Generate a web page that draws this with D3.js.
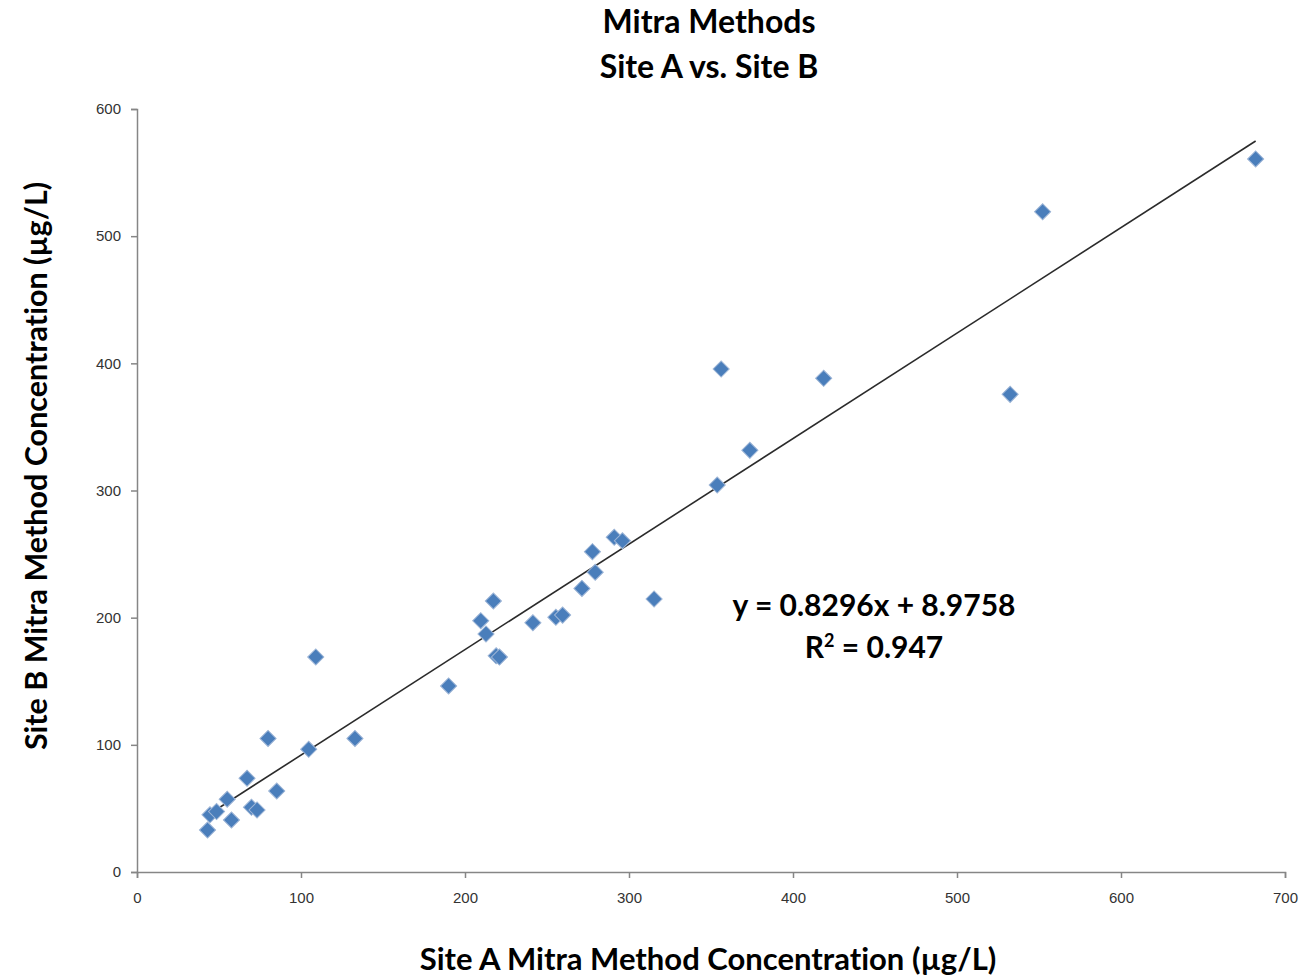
<!DOCTYPE html>
<html>
<head>
  <meta charset="UTF-8">
  <title>Mitra Methods - Site A vs. Site B</title>
  <script src="https://cdn.jsdelivr.net/npm/d3@7"></script>
  <style>
    body { margin: 0; background: #fff; }
    .tick text { font-family: "Liberation Sans", Arial, sans-serif; font-size: 15px; fill: #333; }
    .axis path, .axis line { stroke: #868686; stroke-width: 1.5; }
    .lbl { font-family: Lato, "Open Sans", sans-serif; font-weight: bold; fill: #000;
           font-variant-ligatures: none; font-feature-settings: "liga" 0; }
  </style>
</head>
<body>
<script>
  // Site A (x) and Site B (y) concentrations, ug/L
  var siteA = [43, 44.5, 48.5, 55, 57.6, 67.1, 69.8, 73.2, 79.9, 85.2,
               104.7, 109, 132.9, 190, 209.6, 212.8, 217.3, 219, 221, 241.4,
               255.4, 259.5, 271.3, 277.7, 279.4, 291, 296, 315.3, 353.8, 356.2,
               373.7, 418.7, 532.4, 552.2, 682.1];
  var siteB = [33, 45, 47.5, 57.2, 40.9, 73.7, 50.9, 48.8, 105, 63.7,
               96.5, 169.1, 105, 146.3, 197.6, 187.2, 213.1, 170, 169, 196,
               200.3, 202, 223, 251.9, 235.7, 263.2, 260.5, 214.7, 304.3, 395.5,
               331.6, 388.2, 375.6, 519.2, 560.7];
  var xTicks = [0, 100, 200, 300, 400, 500, 600, 700];
  var yTicks = [0, 100, 200, 300, 400, 500, 600];
  var slope = 0.8296, intercept = 8.9758, rSquared = 0.947;

  var W = 1306, H = 979;
  var svg = d3.select('body').append('svg')
    .attr('width', W).attr('height', H);

  var x = d3.scaleLinear().domain([0, 700]).range([137, 1285]);
  var y = d3.scaleLinear().domain([0, 600]).range([872, 109]);

  svg.append('g').attr('class', 'axis')
    .attr('transform', 'translate(0,872)')
    .call(d3.axisBottom(x).tickValues(xTicks).tickSize(6).tickPadding(12))
    .selectAll('.tick text').attr('dy', '0.85em');

  svg.append('g').attr('class', 'axis')
    .attr('transform', 'translate(137,0)')
    .call(d3.axisLeft(y).tickValues(yTicks).tickSize(6).tickPadding(10));

  // trendline over the range of the data
  var xr = d3.extent(siteA);
  svg.append('line')
    .attr('x1', x(xr[0])).attr('y1', y(slope * xr[0] + intercept))
    .attr('x2', x(xr[1])).attr('y2', y(slope * xr[1] + intercept))
    .attr('stroke', '#2b2b2b').attr('stroke-width', 1.6);

  var pts = siteA.map(function(a, i) { return { a: a, b: siteB[i] }; });
  var diamond = d3.symbol().type(d3.symbolSquare).size(130);
  svg.append('g').selectAll('path').data(pts).enter().append('path')
    .attr('d', diamond)
    .attr('transform', function(d) { return 'translate(' + x(d.a) + ',' + y(d.b) + ') rotate(45)'; })
    .attr('fill', '#4a7ebb')
    .attr('stroke', '#9db5d6')
    .attr('stroke-width', 1);

  // titles
  svg.append('text').attr('class', 'lbl')
    .attr('x', 709).attr('y', 33).attr('text-anchor', 'middle')
    .style('font-size', '32px').text('Mitra Methods');
  svg.append('text').attr('class', 'lbl')
    .attr('x', 709).attr('y', 78).attr('text-anchor', 'middle')
    .style('font-size', '32px').text('Site A vs. Site B');

  svg.append('text').attr('class', 'lbl')
    .attr('x', 708).attr('y', 970).attr('text-anchor', 'middle')
    .style('font-size', '31px').text('Site A Mitra Method Concentration (µg/L)');

  svg.append('text').attr('class', 'lbl')
    .attr('transform', 'translate(47,466) rotate(-90)')
    .attr('text-anchor', 'middle')
    .style('font-size', '30.5px').text('Site B Mitra Method Concentration (µg/L)');

  // regression label
  svg.append('text').attr('class', 'lbl')
    .attr('x', 874).attr('y', 616).attr('text-anchor', 'middle')
    .style('font-size', '30px')
    .text('y = ' + slope + 'x + ' + intercept);
  var r2 = svg.append('text').attr('class', 'lbl')
    .attr('x', 874).attr('y', 658).attr('text-anchor', 'middle')
    .style('font-size', '30px');
  r2.append('tspan').text('R');
  r2.append('tspan').attr('dy', -11).style('font-size', '18px').text('2');
  r2.append('tspan').attr('dy', 11).text(' = ' + rSquared);
</script>
</body>
</html>
